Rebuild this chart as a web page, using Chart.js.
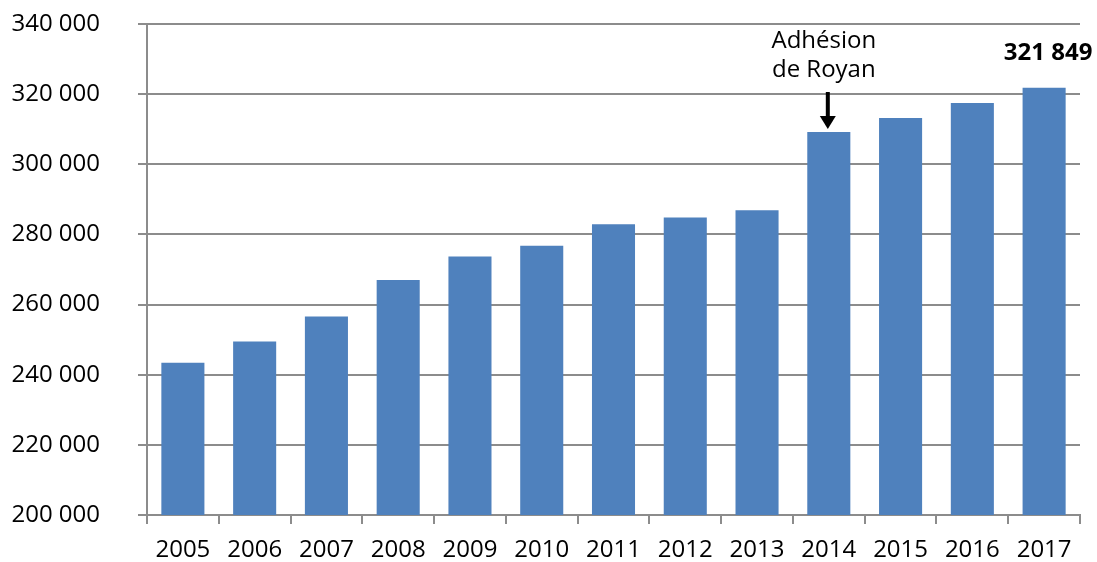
<!DOCTYPE html>
<html>
<head>
<meta charset="utf-8">
<script src="https://cdn.jsdelivr.net/npm/chart.js@4"></script>
<style>
  html, body { margin: 0; padding: 0; background: #fff; overflow: hidden; }
  #wrap { width: 1097px; height: 562px; position: relative; }
</style>
</head>
<body>
<div id="wrap"><canvas id="chart"></canvas></div>
<script>
const years = ["2005", "2006", "2007", "2008", "2009", "2010", "2011", "2012", "2013", "2014", "2015", "2016", "2017"];
const population = [243400, 249500, 256600, 267000, 273700, 276800, 282900, 284800, 286900, 309200, 313200, 317500, 321849];
const yTicks = [200000, 220000, 240000, 260000, 280000, 300000, 320000, 340000];
const noteYear = "2014";
const noteLines = ["Adhésion", "de Royan"];
const valueLabelYear = "2017";

const FONT = "'Open Sans', 'Noto Sans', sans-serif";
const GRID = "#8c8c8c";
const TEXT = "#000";

function fmt(v) {
  return String(v).replace(/\B(?=(\d{3})+(?!\d))/g, " ");
}

// texte + fleche au-dessus des barres
const notes = {
  id: "notes",
  afterDatasetsDraw(chart) {
    const ctx = chart.ctx;
    const meta = chart.getDatasetMeta(0);

    const bar = meta.data[years.indexOf(noteYear)];
    const x = bar.x - 1;
    ctx.save();
    ctx.fillStyle = TEXT;
    ctx.font = "24px " + FONT;
    ctx.textAlign = "center";
    ctx.textBaseline = "middle";
    ctx.fillText(noteLines[0], x - 4, bar.y - 91);
    ctx.fillText(noteLines[1], x - 4, bar.y - 62);

    // fleche
    ctx.strokeStyle = "#000";
    ctx.lineWidth = 4;
    ctx.beginPath();
    ctx.moveTo(x, bar.y - 40);
    ctx.lineTo(x, bar.y - 14);
    ctx.stroke();
    ctx.fillStyle = "#000";
    ctx.beginPath();
    ctx.moveTo(x - 8, bar.y - 16);
    ctx.lineTo(x + 8, bar.y - 16);
    ctx.lineTo(x, bar.y - 3);
    ctx.closePath();
    ctx.fill();

    const last = meta.data[years.indexOf(valueLabelYear)];
    ctx.fillStyle = TEXT;
    ctx.font = "bold 24px " + FONT;
    ctx.fillText(fmt(population[years.indexOf(valueLabelYear)]), last.x + 4, last.y - 35);
    ctx.restore();
  }
};

new Chart(document.getElementById("chart"), {
  type: "bar",
  data: {
    labels: years,
    datasets: [{
      data: population,
      backgroundColor: "#4f81bd",
      barPercentage: 0.6,
      categoryPercentage: 1.0
    }]
  },
  options: {
    responsive: true,
    maintainAspectRatio: false,
    animation: false,
    layout: { padding: { top: 24, right: 17, bottom: 0, left: 8 } },
    plugins: {
      legend: { display: false },
      tooltip: { enabled: false }
    },
    scales: {
      x: {
        afterFit(scale) {
          scale.height = 47;
        },
        grid: {
          display: true,
          drawOnChartArea: false,
          tickLength: 9,
          color: GRID,
          lineWidth: 2
        },
        border: { color: GRID, width: 2 },
        ticks: {
          color: TEXT,
          padding: 14,
          maxRotation: 0,
          font: { family: FONT, size: 24, lineHeight: 1 }
        }
      },
      y: {
        min: 200000,
        max: 340000,
        afterBuildTicks(scale) {
          scale.ticks = yTicks.map(v => ({ value: v }));
        },
        afterFit(scale) {
          scale.width = 139;
          scale.paddingTop = 12;
          scale.paddingBottom = 12;
        },
        grid: {
          color: GRID,
          lineWidth: 2,
          tickLength: 9
        },
        border: { color: GRID, width: 2 },
        ticks: {
          color: TEXT,
          padding: 38,
          font: { family: FONT, size: 24, lineHeight: 1 },
          callback: v => fmt(v)
        }
      }
    }
  },
  plugins: [notes]
});
</script>
</body>
</html>
